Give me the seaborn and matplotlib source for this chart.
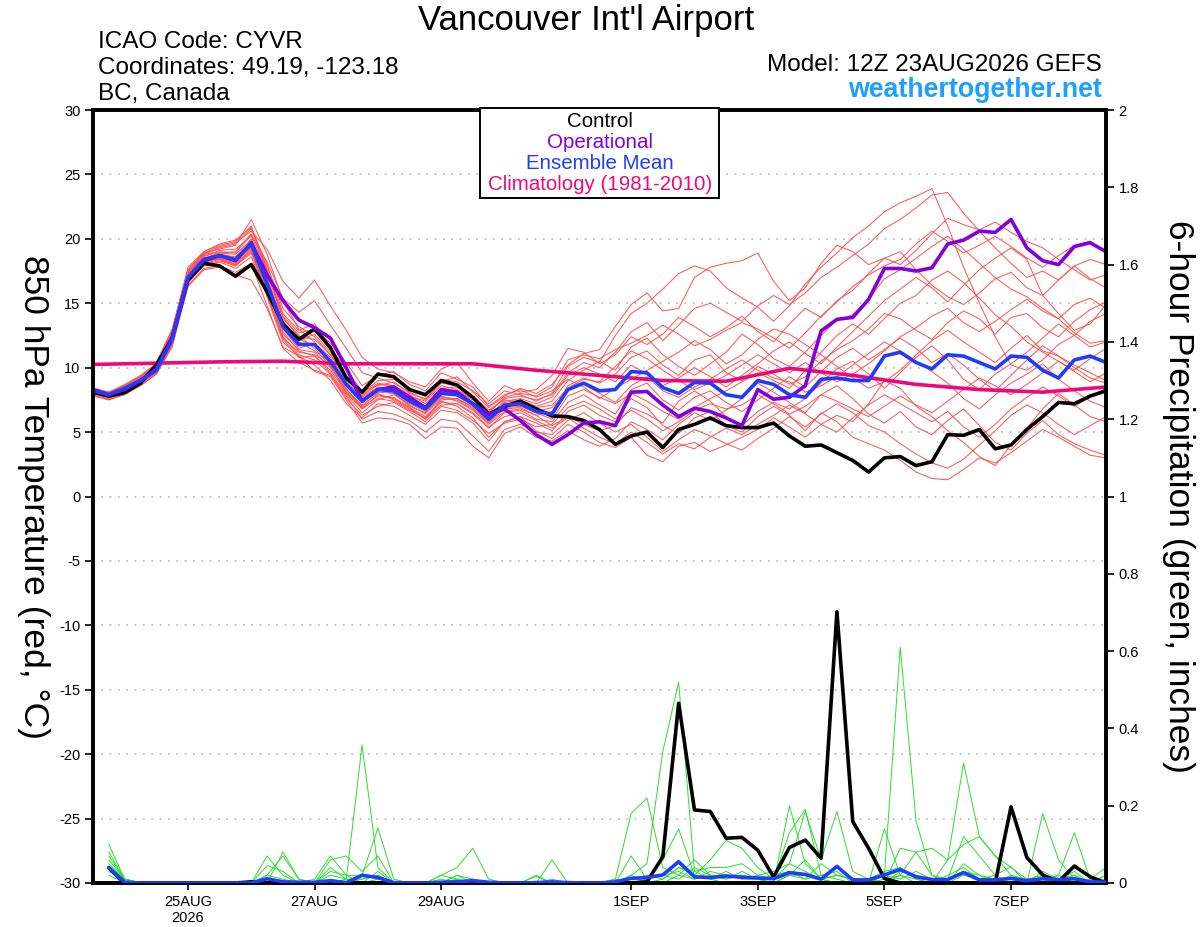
import matplotlib
matplotlib.use("Agg")

import matplotlib.pyplot as plt
from matplotlib.patches import Rectangle
import pandas as pd
import seaborn as sns


# Forecast hours from the 12Z 23AUG2026 GEFS run.
temp_hours = list(range(0, 385, 6))
precip_hours = list(range(6, 385, 6))
clim_hours = list(range(0, 385, 24))

tick_hours = [36, 84, 132, 204, 252, 300, 348]
tick_labels = ["25AUG\n2026", "27AUG", "29AUG", "1SEP", "3SEP", "5SEP", "7SEP"]

# 850 hPa temperature (C)
control_temp = [
    8.1, 7.8, 8.06, 8.8, 10.2, 12.3, 16.8, 18.1, 17.9, 17.1,
    18.0, 15.9, 13.4, 12.2, 13.0, 11.55, 9.2, 8.1, 9.5, 9.3,
    8.3, 7.9, 9.0, 8.65, 7.7, 6.4, 7.0, 7.4, 6.8, 6.25,
    6.2, 5.9, 5.2, 4.05, 4.7, 5.0, 3.8, 5.2, 5.6, 6.1,
    5.5, 5.35, 5.35, 5.7, 4.7, 3.9, 4.0, 3.4, 2.8, 1.9,
    3.0, 3.1, 2.4, 2.7, 4.8, 4.75, 5.2, 3.7, 4.0, 5.2,
    6.2, 7.3, 7.2, 7.8, 8.2,
]
oper_temp = [
    8.3, 7.9, 8.3, 9.0, 9.9, 12.3, 17.0, 18.3, 18.7, 18.3,
    19.7, 17.2, 15.2, 13.7, 13.1, 12.3, 10.0, 7.4, 8.3, 8.5,
    7.7, 6.9, 8.3, 8.1, 7.2, 6.4, 6.8, 5.9, 4.8, 4.05,
    4.8, 5.7, 5.8, 5.5, 8.1, 8.15, 7.1, 6.2, 6.85, 6.6,
    6.1, 5.5, 8.3, 7.55, 7.7, 8.6, 12.85, 13.75, 13.9, 15.3,
    17.7, 17.7, 17.5, 17.75, 19.6, 19.9, 20.6, 20.5, 21.5, 19.3,
    18.3, 18.0, 19.4, 19.7, 19.0,
]
mean_temp = [
    8.2, 7.9, 8.4, 9.0, 9.8, 12.2, 17.0, 18.4, 18.7, 18.4,
    19.6, 16.5, 13.2, 11.8, 11.8, 10.5, 8.7, 7.4, 8.3, 8.2,
    7.4, 6.8, 8.0, 7.9, 7.2, 6.0, 7.1, 7.2, 6.6, 6.4,
    8.3, 8.8, 8.2, 8.3, 9.7, 9.6, 8.45, 8.0, 8.85, 8.8,
    7.9, 7.7, 9.0, 8.7, 7.9, 7.7, 9.1, 9.2, 9.0, 9.0,
    10.9, 11.2, 10.4, 9.9, 11.0, 10.9, 10.4, 9.9, 10.9, 10.8,
    9.8, 9.2, 10.6, 10.9, 10.4,
]
clim_temp = [10.25, 10.35, 10.45, 10.5, 10.3, 10.3, 10.3, 9.8, 9.4,
             9.0, 8.95, 9.95, 9.4, 8.7, 8.3, 8.1, 8.5]

temp_m01 = [8.0, 7.6, 8.3, 9.2, 10.4, 13.0, 17.6, 18.9, 19.2, 19.5,
            21.5, 18.8, 15.2, 13.0, 12.0, 10.2, 8.0, 6.8, 7.9, 7.6,
            6.9, 6.0, 7.4, 7.0, 6.1, 4.6, 5.8, 6.2, 5.1, 4.5,
            5.6, 5.0, 4.2, 3.8, 4.6, 3.2, 2.7, 3.9, 4.2, 3.5,
            4.0, 4.6, 5.2, 6.1, 5.4, 4.6, 5.6, 6.3, 5.8, 7.2,
            9.0, 8.4, 7.0, 6.2, 5.1, 4.2, 3.1, 2.4, 4.0, 5.3,
            6.8, 8.0, 7.1, 6.2, 5.8]
temp_m02 = [8.3, 8.0, 8.6, 9.3, 10.0, 12.6, 17.4, 18.7, 18.9, 19.0,
            20.4, 17.9, 14.6, 13.2, 12.4, 11.0, 9.3, 7.9, 8.8, 8.6,
            7.8, 7.4, 8.6, 8.3, 7.6, 6.6, 7.6, 7.8, 7.5, 7.9,
            9.6, 10.4, 10.0, 11.2, 12.8, 13.5, 12.1, 13.3, 14.6, 15.0,
            14.3, 13.6, 14.8, 15.6, 14.9, 15.8, 17.0, 17.8, 18.7, 19.6,
            20.8, 21.5, 22.4, 23.4, 23.6, 22.0, 20.6, 19.3, 18.1, 17.0,
            17.5, 16.8, 17.9, 18.4, 18.0]
temp_m03 = [8.1, 7.8, 8.5, 9.1, 9.9, 12.4, 17.2, 18.8, 19.3, 19.6,
            20.8, 18.0, 14.2, 12.9, 13.4, 11.6, 9.8, 8.2, 8.6, 8.9,
            8.0, 7.6, 8.9, 9.3, 8.1, 6.9, 7.8, 8.4, 8.0, 8.7,
            10.2, 11.1, 11.4, 13.2, 14.9, 15.8, 14.4, 14.6, 17.0, 17.8,
            18.1, 18.3, 18.9, 16.7, 15.2, 16.2, 18.1, 19.5, 19.0, 18.0,
            18.5, 19.0, 17.6, 16.4, 15.5, 14.9, 15.8, 16.9, 17.4, 16.2,
            15.6, 16.8, 17.9, 16.9, 16.2]
temp_m04 = [8.0, 7.7, 8.1, 8.7, 9.6, 11.8, 16.6, 18.0, 18.3, 17.9,
            19.0, 16.0, 12.4, 11.0, 10.6, 9.5, 7.6, 6.3, 7.0, 7.3,
            6.6, 5.8, 7.0, 6.7, 5.9, 4.9, 5.7, 6.0, 5.4, 5.6,
            6.9, 7.4, 6.8, 6.0, 7.6, 6.9, 5.5, 4.9, 6.1, 6.6,
            5.5, 5.0, 6.2, 7.0, 6.3, 5.1, 6.5, 5.8, 4.6, 4.1,
            3.6, 2.8, 1.9, 1.4, 1.3, 2.1, 3.0, 2.6, 3.4, 4.3,
            5.2, 4.6, 3.9, 3.2, 3.0]
temp_m05 = [8.4, 8.1, 8.7, 9.4, 10.3, 12.9, 17.8, 19.0, 19.6, 19.9,
            20.9, 17.3, 13.8, 12.5, 11.5, 10.1, 8.2, 7.0, 8.1, 8.0,
            7.1, 6.4, 7.6, 7.5, 6.8, 5.7, 6.8, 6.9, 6.3, 6.6,
            8.6, 9.2, 8.8, 9.5, 10.8, 11.3, 10.2, 9.4, 10.6, 11.0,
            9.6, 9.0, 10.1, 9.5, 8.7, 9.3, 10.5, 11.4, 12.1, 13.0,
            14.2, 13.8, 12.9, 12.2, 13.5, 14.4, 13.8, 12.6, 13.9, 14.2,
            13.1, 12.4, 13.6, 14.5, 15.1]
temp_m06 = [7.9, 7.5, 8.0, 8.6, 9.5, 11.6, 16.3, 17.6, 17.8, 17.2,
            16.8, 14.6, 11.6, 10.9, 9.7, 9.3, 7.5, 5.7, 6.1, 6.0,
            5.6, 4.5, 5.4, 5.3, 3.9, 3.0, 4.9, 5.4, 4.6, 4.3,
            5.1, 4.4, 3.9, 4.5, 5.8, 5.2, 4.4, 5.6, 6.5, 5.9,
            6.7, 7.6, 8.8, 8.1, 7.3, 6.5, 7.9, 8.6, 7.6, 6.4,
            5.7, 6.6, 5.4, 4.8, 5.9, 6.8, 5.5, 4.2, 3.6, 4.9,
            5.9, 4.8, 4.1, 3.6, 3.2]
temp_m07 = [8.2, 7.9, 8.4, 9.0, 10.1, 12.1, 16.9, 18.3, 18.6, 18.2,
            19.3, 16.4, 13.0, 11.5, 11.9, 10.8, 9.0, 7.7, 8.5, 8.1,
            7.5, 6.9, 8.2, 8.0, 7.3, 6.2, 7.3, 7.5, 7.0, 7.4,
            9.0, 9.8, 10.5, 9.8, 11.6, 12.3, 11.0, 10.1, 9.4, 10.3,
            11.2, 12.6, 11.8, 10.7, 10.1, 11.2, 12.5, 13.7, 14.1, 15.3,
            16.9, 17.6, 18.5, 19.4, 20.2, 19.2, 18.1, 17.0, 16.1, 15.5,
            14.6, 13.8, 12.7, 11.9, 12.1]
temp_m08 = [8.1, 7.8, 8.2, 8.9, 9.7, 12.0, 16.8, 18.2, 18.5, 18.1,
            19.4, 16.2, 12.8, 11.3, 10.9, 9.8, 8.1, 6.9, 7.8, 7.7,
            6.9, 6.2, 7.3, 7.2, 6.4, 5.3, 6.5, 6.7, 6.0, 5.8,
            7.3, 7.9, 7.1, 6.4, 8.3, 8.8, 7.5, 6.7, 7.7, 8.2,
            7.3, 6.6, 7.5, 8.4, 9.3, 8.5, 9.7, 10.8, 11.5, 10.6,
            11.4, 12.3, 11.5, 10.4, 11.1, 10.2, 9.1, 8.2, 9.4, 10.6,
            11.7, 10.9, 10.0, 9.2, 8.8]
temp_m09 = [8.3, 8.0, 8.5, 9.2, 10.2, 12.8, 17.5, 18.9, 19.4, 19.7,
            20.6, 19.2, 16.7, 15.4, 16.8, 14.8, 12.9, 10.8, 9.9, 9.6,
            8.9, 8.5, 9.9, 10.4, 8.8, 7.4, 8.6, 8.1, 8.3, 9.4,
            11.5, 11.2, 10.3, 11.0, 12.4, 11.8, 12.6, 13.9, 13.2, 12.4,
            13.1, 14.0, 12.8, 12.0, 13.4, 14.6, 13.9, 15.2, 16.0, 17.3,
            18.5, 18.0, 19.1, 20.4, 21.6, 21.1, 20.7, 21.3, 20.5, 19.8,
            19.3, 18.4, 17.6, 16.8, 17.2]
temp_m10 = [8.2, 7.9, 8.3, 9.0, 9.9, 12.3, 17.1, 18.5, 18.8, 18.6,
            20.0, 17.0, 13.5, 12.1, 12.6, 11.2, 9.4, 8.0, 9.0, 9.1,
            8.4, 7.8, 9.1, 8.9, 8.2, 7.2, 8.2, 7.9, 7.4, 8.0,
            10.1, 10.8, 10.4, 12.5, 14.2, 15.0, 16.1, 17.3, 17.9, 17.5,
            16.2, 15.4, 14.7, 13.6, 14.8, 16.5, 17.8, 18.9, 20.1, 21.0,
            22.1, 22.8, 23.3, 23.9, 21.0, 17.8, 15.0, 12.4, 10.2, 9.8,
            10.6, 11.8, 12.5, 13.6, 14.2]
temp_m11 = [8.0, 7.7, 8.2, 8.8, 9.7, 12.0, 16.7, 18.1, 18.4, 18.0,
            19.1, 15.8, 12.2, 10.8, 10.9, 9.6, 7.9, 6.5, 7.5, 7.9,
            7.2, 6.6, 7.8, 7.4, 6.7, 5.6, 6.6, 6.8, 6.3, 5.5,
            6.2, 5.6, 5.1, 5.5, 6.9, 6.4, 5.7, 7.4, 8.2, 7.4,
            6.2, 5.5, 6.6, 7.3, 6.8, 7.6, 8.8, 9.9, 10.5, 9.5,
            8.4, 9.6, 10.8, 11.7, 10.6, 9.1, 8.3, 9.5, 10.3, 11.2,
            12.3, 13.4, 12.5, 11.6, 12.0]
temp_m12 = [8.4, 8.1, 8.6, 9.3, 10.1, 12.5, 17.3, 18.6, 19.1, 19.2,
            20.2, 17.6, 14.0, 12.7, 13.0, 11.9, 10.4, 8.6, 9.4, 9.7,
            8.7, 8.2, 9.6, 9.1, 8.5, 7.0, 7.9, 8.3, 7.7, 8.2,
            9.1, 8.5, 7.6, 8.4, 9.1, 9.8, 10.5, 11.2, 12.1, 11.4,
            10.3, 11.0, 12.2, 13.0, 12.6, 11.8, 11.0, 10.1, 9.2, 8.4,
            8.9, 9.8, 11.0, 12.1, 12.9, 12.0, 11.2, 10.4, 11.5, 12.5,
            11.3, 10.9, 10.2, 9.6, 9.0]
temp_m13 = [8.1, 7.8, 8.3, 8.9, 9.8, 12.2, 17.0, 18.4, 18.7, 18.3,
            19.5, 16.6, 13.4, 12.0, 11.3, 10.4, 8.6, 7.3, 8.3, 8.0,
            7.0, 6.5, 7.7, 7.6, 7.0, 5.9, 6.9, 7.0, 6.5, 6.0,
            7.8, 8.3, 7.7, 7.2, 8.0, 7.4, 6.6, 6.0, 6.9, 7.6,
            8.2, 8.9, 9.6, 9.0, 8.4, 9.8, 11.2, 12.5, 13.4, 12.6,
            13.8, 15.0, 15.6, 16.8, 17.5, 16.6, 15.4, 14.1, 13.2, 12.0,
            11.2, 10.5, 9.8, 10.7, 11.5]
temp_m14 = [7.8, 7.5, 7.9, 8.6, 9.5, 11.7, 16.4, 17.7, 17.9, 17.4,
            18.1, 14.8, 11.5, 10.4, 9.8, 9.4, 7.8, 6.0, 6.6, 6.4,
            5.9, 5.0, 6.0, 5.8, 4.7, 3.5, 5.2, 5.6, 5.0, 4.8,
            5.9, 6.5, 5.7, 5.0, 5.6, 4.6, 3.5, 4.4, 5.2, 4.7,
            4.1, 3.6, 4.5, 5.3, 6.2, 5.4, 6.4, 7.2, 6.5, 5.5,
            5.0, 4.1, 3.3, 2.6, 2.2, 2.9, 4.0, 5.1, 6.3, 7.1,
            6.5, 5.6, 4.8, 5.5, 6.2]
temp_m15 = [8.3, 8.0, 8.4, 9.1, 10.0, 12.4, 17.1, 18.5, 18.9, 18.8,
            19.9, 16.9, 13.6, 12.2, 11.7, 10.6, 8.8, 7.6, 8.4, 8.3,
            7.6, 7.0, 8.1, 8.2, 7.5, 6.3, 7.4, 7.6, 7.2, 7.7,
            9.4, 10.0, 9.5, 8.9, 10.2, 9.5, 8.6, 9.2, 10.0, 9.3,
            8.5, 9.4, 10.3, 11.3, 12.0, 11.1, 10.3, 11.6, 12.8, 14.0,
            15.2, 16.1, 17.0, 16.2, 15.1, 16.4, 17.6, 18.5, 19.3, 18.4,
            15.6, 14.2, 12.9, 13.4, 14.9]
temp_m16 = [8.0, 7.6, 8.1, 8.8, 9.6, 11.9, 16.6, 17.9, 18.2, 17.7,
            18.6, 15.5, 12.0, 10.9, 10.2, 9.0, 7.2, 6.1, 7.2, 7.0,
            6.3, 5.6, 6.7, 6.5, 5.7, 4.3, 5.8, 6.2, 5.7, 5.1,
            6.6, 7.1, 6.3, 5.8, 6.7, 6.0, 5.1, 5.8, 6.7, 7.2,
            6.8, 7.1, 7.9, 7.2, 6.4, 7.0, 7.9, 7.4, 6.8, 6.2,
            7.0, 7.8, 7.1, 6.5, 7.4, 8.3, 9.2, 8.6, 7.9, 8.7,
            9.6, 10.5, 9.7, 8.9, 9.6]
temp_m17 = [8.2, 7.9, 8.5, 9.2, 10.1, 12.6, 17.4, 18.8, 19.0, 18.9,
            20.3, 18.2, 15.4, 14.3, 15.2, 13.3, 11.5, 9.6, 9.2, 8.8,
            8.1, 7.5, 8.8, 8.6, 7.8, 6.7, 7.5, 7.3, 6.9, 7.1,
            8.4, 9.1, 8.9, 10.1, 11.3, 10.7, 9.8, 9.0, 8.3, 8.8,
            9.4, 10.2, 11.0, 10.3, 9.6, 10.4, 9.6, 8.9, 9.5, 10.3,
            11.3, 12.4, 13.1, 14.0, 14.6, 13.5, 12.8, 13.6, 14.5, 15.3,
            14.4, 13.8, 14.9, 15.4, 14.6]
temp_m18 = [8.1, 7.7, 8.2, 8.8, 9.7, 12.1, 16.9, 18.2, 18.5, 18.0,
            19.2, 16.1, 12.6, 11.4, 11.2, 10.0, 8.3, 7.1, 8.0, 7.5,
            6.8, 6.0, 7.1, 7.2, 6.5, 5.4, 6.2, 6.5, 5.9, 5.3,
            6.1, 5.3, 4.6, 4.1, 5.0, 4.2, 3.3, 4.1, 3.7, 4.6,
            5.3, 4.8, 5.6, 6.3, 7.1, 6.4, 5.6, 5.0, 6.1, 7.1,
            7.9, 7.2, 6.5, 5.8, 6.6, 5.4, 4.6, 5.6, 6.8, 7.7,
            8.5, 7.8, 7.0, 7.7, 8.4]
temp_m19 = [8.3, 8.0, 8.6, 9.3, 10.2, 12.7, 17.6, 19.0, 19.5, 19.8,
            21.0, 17.6, 13.9, 12.4, 12.2, 11.0, 9.2, 7.8, 8.7, 8.6,
            7.9, 7.2, 8.4, 8.5, 7.7, 6.5, 7.7, 8.0, 7.8, 8.5,
            10.6, 11.0, 10.7, 11.4, 11.9, 12.5, 13.3, 12.6, 11.7, 12.2,
            12.9, 13.5, 13.0, 12.3, 11.5, 12.7, 14.0, 15.1, 16.3, 17.2,
            17.9, 18.4, 19.6, 20.6, 19.8, 18.9, 19.5, 20.2, 19.4, 18.5,
            17.8, 18.7, 19.5, 19.8, 18.9]
temp_m20 = [8.0, 7.6, 8.2, 8.9, 9.8, 12.2, 16.9, 18.3, 18.4, 17.9,
            18.9, 15.6, 12.3, 11.2, 11.0, 10.2, 8.4, 6.8, 7.6, 7.4,
            6.7, 6.1, 7.5, 7.6, 6.9, 5.8, 6.9, 7.1, 6.6, 6.9,
            8.2, 8.7, 8.0, 7.3, 8.6, 9.3, 8.2, 7.7, 8.5, 9.1,
            9.9, 10.6, 9.8, 9.2, 8.9, 8.1, 8.6, 9.3, 10.2, 11.1,
            12.0, 11.3, 10.5, 9.7, 8.8, 7.6, 6.8, 7.9, 8.8, 9.5,
            10.3, 9.1, 8.2, 7.4, 6.9]

temp_members = [temp_m01, temp_m02, temp_m03, temp_m04, temp_m05,
                temp_m06, temp_m07, temp_m08, temp_m09, temp_m10,
                temp_m11, temp_m12, temp_m13, temp_m14, temp_m15,
                temp_m16, temp_m17, temp_m18, temp_m19, temp_m20]

# 6-hour precipitation (inches)
control_precip = [
    0.039, 0, 0, 0, 0, 0, 0, 0,
    0, 0.003, 0, 0, 0, 0, 0, 0,
    0, 0, 0, 0, 0, 0, 0, 0,
    0, 0, 0, 0, 0, 0, 0, 0,
    0, 0, 0.003, 0.068, 0.465, 0.189, 0.185, 0.116,
    0.118, 0.085, 0.015, 0.092, 0.111, 0.064, 0.702, 0.159,
    0.09, 0.012, 0, 0, 0, 0, 0, 0,
    0, 0.197, 0.066, 0.021, 0.003, 0.044, 0.016, 0,
]
mean_precip = [
    0.04, 0.002, 0, 0, 0, 0, 0, 0,
    0, 0, 0.011, 0.003, 0.002, 0.002, 0.006, 0.001,
    0.02, 0.014, 0.001, 0, 0, 0.002, 0.003, 0.006,
    0.002, 0, 0, 0.001, 0.003, 0.001, 0, 0,
    0.003, 0.012, 0.014, 0.021, 0.055, 0.016, 0.014, 0.018,
    0.015, 0.013, 0.011, 0.027, 0.022, 0.01, 0.043, 0.008,
    0.008, 0.021, 0.035, 0.016, 0.009, 0.009, 0.027, 0.008,
    0.008, 0.012, 0.006, 0.011, 0.009, 0.011, 0.003, 0.002,
]

precip_m01 = [0.10, 0.01, 0, 0, 0, 0, 0, 0,
              0, 0, 0.02, 0.07, 0.01, 0, 0, 0.01,
              0.357, 0.04, 0, 0, 0, 0, 0, 0,
              0, 0, 0, 0, 0, 0, 0, 0,
              0, 0.02, 0.05, 0.34, 0.52, 0.03, 0.01, 0,
              0, 0, 0, 0.02, 0.06, 0.01, 0, 0,
              0, 0.02, 0.61, 0.16, 0.02, 0, 0, 0,
              0, 0, 0, 0.01, 0, 0, 0, 0]
precip_m02 = [0.06, 0.01, 0, 0, 0, 0, 0, 0,
              0, 0, 0.07, 0.02, 0, 0.01, 0.07, 0.02,
              0.02, 0.142, 0.01, 0, 0, 0, 0.02, 0.01,
              0, 0, 0, 0, 0.06, 0, 0, 0,
              0.01, 0.18, 0.22, 0.04, 0.02, 0.06, 0.02, 0.01,
              0.02, 0.01, 0, 0.20, 0.05, 0.01, 0, 0,
              0, 0, 0.09, 0.08, 0.02, 0.01, 0.12, 0.07,
              0.02, 0, 0, 0.18, 0.06, 0.01, 0, 0]
precip_m03 = [0.05, 0.01, 0, 0, 0, 0, 0, 0,
              0, 0, 0, 0.08, 0.01, 0, 0.06, 0.07,
              0.03, 0.07, 0, 0, 0, 0.02, 0.04, 0.09,
              0.01, 0, 0, 0.02, 0, 0, 0, 0,
              0, 0.07, 0.01, 0.06, 0.14, 0.02, 0.06, 0.11,
              0.09, 0.04, 0.01, 0.13, 0.19, 0.02, 0.01, 0,
              0, 0.14, 0.02, 0, 0, 0.06, 0.31, 0.12,
              0.07, 0.04, 0.01, 0, 0.02, 0.13, 0.01, 0.04]
precip_m04 = [0.04, 0.01, 0, 0, 0, 0, 0, 0,
              0, 0, 0.045, 0.03, 0, 0, 0.04, 0.01,
              0.01, 0.02, 0, 0, 0, 0, 0, 0,
              0, 0, 0, 0, 0, 0, 0, 0,
              0, 0.02, 0, 0.01, 0.04, 0.03, 0.04, 0.04,
              0.05, 0.02, 0.03, 0.05, 0.185, 0.06, 0.185, 0.03,
              0.01, 0, 0.02, 0.08, 0.09, 0.06, 0.10, 0.12,
              0.07, 0.02, 0, 0.03, 0.01, 0.02, 0, 0.02]
precip_m05 = [0.03, 0.005, 0, 0, 0, 0, 0, 0,
              0, 0, 0.02, 0.01, 0, 0, 0.02, 0.01,
              0, 0.03, 0, 0, 0, 0.01, 0, 0,
              0, 0, 0, 0.017, 0, 0, 0, 0,
              0, 0.01, 0.02, 0.02, 0.03, 0.01, 0.02, 0.02,
              0.01, 0.01, 0.02, 0.03, 0.01, 0.05, 0.02, 0.01,
              0.01, 0.03, 0.04, 0.01, 0, 0.02, 0.04, 0.01,
              0.02, 0.042, 0, 0.02, 0.01, 0.03, 0, 0.01]
precip_m06 = [0.02, 0, 0, 0, 0, 0, 0, 0,
              0, 0, 0, 0, 0, 0, 0, 0,
              0, 0.01, 0, 0, 0, 0, 0.01, 0,
              0, 0, 0, 0, 0, 0, 0, 0,
              0, 0, 0, 0, 0.02, 0.01, 0.03, 0.02,
              0.02, 0.01, 0.01, 0.02, 0.02, 0.01, 0.02, 0.01,
              0, 0.01, 0.02, 0.01, 0, 0, 0.02, 0.01,
              0.01, 0, 0, 0.01, 0, 0.01, 0, 0]
precip_m07 = [0.08, 0.01, 0, 0, 0, 0, 0, 0,
              0, 0, 0, 0, 0, 0, 0.03, 0.02,
              0, 0, 0, 0, 0, 0, 0.02, 0,
              0, 0, 0, 0, 0.01, 0, 0, 0,
              0, 0.01, 0.02, 0.01, 0.04, 0.02, 0.01, 0.03,
              0.01, 0.02, 0.01, 0.05, 0.03, 0.01, 0.02, 0.01,
              0, 0.02, 0.01, 0.03, 0.01, 0, 0.05, 0.02,
              0.01, 0.01, 0, 0.01, 0.02, 0, 0.01, 0]
precip_m08 = [0.07, 0.01, 0, 0, 0, 0, 0, 0,
              0, 0, 0.01, 0, 0, 0, 0.01, 0,
              0.01, 0.02, 0, 0, 0, 0.02, 0.01, 0,
              0, 0, 0, 0, 0, 0, 0, 0,
              0.01, 0, 0.01, 0.02, 0.01, 0.04, 0.02, 0.01,
              0.03, 0.01, 0, 0.02, 0.01, 0.02, 0.03, 0,
              0.01, 0, 0.03, 0.02, 0.01, 0.01, 0.03, 0.02,
              0, 0.02, 0.01, 0.02, 0.01, 0.02, 0, 0.02]

precip_members = [precip_m01, precip_m02, precip_m03, precip_m04,
                  precip_m05, precip_m06, precip_m07, precip_m08]

RED = "#ff4f4f"
GREEN = "#2edc2e"
PURPLE = "#8200dc"
BLUE = "#1e3cff"
PINK = "#f0087a"
SITE_BLUE = "#1ea0ff"


def members_frame(members, hours, name):
    # Long format so seaborn can draw one line per member.
    rows = []
    for k, vals in enumerate(members):
        for h, v in zip(hours, vals, strict=True):
            rows.append((k, h, v))
    return pd.DataFrame(rows, columns=["member", "hour", name])


def main() -> None:
    sns.set_theme(style="ticks")
    plt.rcParams["font.family"] = ["Liberation Sans", "DejaVu Sans"]
    plt.rcParams["text.color"] = "black"

    fig = plt.figure(figsize=(12, 9.27), dpi=100)
    ax = fig.add_axes([93 / 1200, 1 - 883 / 927, 1013 / 1200, 773 / 927])
    ax2 = ax.twinx()

    # Temperature: ensemble members first, then the highlighted runs.
    temp_df = members_frame(temp_members, temp_hours, "temp")
    sns.lineplot(data=temp_df, x="hour", y="temp", units="member", estimator=None,
                 color=RED, linewidth=0.7, ax=ax, legend=False, zorder=2)
    sns.lineplot(x=clim_hours, y=clim_temp, color=PINK, linewidth=2.6, ax=ax, zorder=3)
    sns.lineplot(x=temp_hours, y=control_temp, color="black", linewidth=2.6, ax=ax, zorder=4)
    sns.lineplot(x=temp_hours, y=oper_temp, color=PURPLE, linewidth=2.6, ax=ax, zorder=5)
    sns.lineplot(x=temp_hours, y=mean_temp, color=BLUE, linewidth=2.6, ax=ax, zorder=6)

    # Precipitation on the right axis.
    precip_df = members_frame(precip_members, precip_hours, "precip")
    sns.lineplot(data=precip_df, x="hour", y="precip", units="member", estimator=None,
                 color=GREEN, linewidth=0.7, ax=ax2, legend=False, zorder=2)
    sns.lineplot(x=precip_hours, y=control_precip, color="black", linewidth=2.6, ax=ax2, zorder=3)
    sns.lineplot(x=precip_hours, y=mean_precip, color=BLUE, linewidth=2.6, ax=ax2, zorder=4)

    ax.set_xlim(0, 384)
    ax.set_ylim(-30, 30)
    ax2.set_ylim(0, 2)
    ax.set_yticks(list(range(-30, 31, 5)))
    ax.set_yticklabels([str(v) for v in range(-30, 31, 5)])
    right_ticks = [0, 0.2, 0.4, 0.6, 0.8, 1, 1.2, 1.4, 1.6, 1.8, 2]
    ax2.set_yticks(right_ticks)
    ax2.set_yticklabels([f"{v:g}" for v in right_ticks])
    ax.set_xticks(tick_hours)
    ax.set_xticklabels(tick_labels, linespacing=1.15)
    ax.set_xlabel("")
    ax.set_ylabel("")
    ax2.set_ylabel("")

    ax.grid(axis="y", color="#b4b4b4", linestyle=(0, (1, 4)), linewidth=1.2)
    ax.grid(axis="x", visible=False)
    ax2.grid(False)

    ax.tick_params(axis="y", direction="out", length=6, width=1.2, labelsize=10.5,
                   pad=3, colors="black")
    ax.tick_params(axis="x", direction="out", length=5, width=1.2, labelsize=10.5,
                   pad=4, colors="black")
    ax2.tick_params(axis="y", direction="out", length=6, width=1.2, labelsize=10.5,
                    pad=3, colors="black")
    for a in (ax, ax2):
        for sp in a.spines.values():
            sp.set_visible(True)
            sp.set_color("black")
            sp.set_linewidth(2.6)

    # Header text
    fig.text(586 / 1200, 1 - 30 / 927, "Vancouver Int'l Airport", ha="center",
             va="baseline", fontsize=25, color="black")
    fig.text(98 / 1200, 1 - 48 / 927, "ICAO Code: CYVR", ha="left", va="baseline",
             fontsize=17.5, color="black")
    fig.text(98 / 1200, 1 - 74 / 927, "Coordinates: 49.19, -123.18", ha="left",
             va="baseline", fontsize=17.5, color="black")
    fig.text(98 / 1200, 1 - 100 / 927, "BC, Canada", ha="left", va="baseline",
             fontsize=17.5, color="black")
    fig.text(1102 / 1200, 1 - 71 / 927, "Model: 12Z 23AUG2026 GEFS", ha="right",
             va="baseline", fontsize=17.5, color="black")
    fig.text(1102 / 1200, 1 - 97 / 927, "weathertogether.net", ha="right", va="baseline",
             fontsize=19.3, fontweight="bold", color=SITE_BLUE)

    # Legend box over the top of the plot
    fig.add_artist(Rectangle((480 / 1200, 1 - 198 / 927), 239 / 1200, 90 / 927,
                             transform=fig.transFigure, facecolor="white",
                             edgecolor="black", linewidth=1.4, zorder=5))
    legend_items = [("Control", "black", 127), ("Operational", PURPLE, 148),
                    ("Ensemble Mean", BLUE, 169), ("Climatology (1981-2010)", PINK, 190)]
    for label, color, ypix in legend_items:
        fig.text(600 / 1200, 1 - ypix / 927, label, ha="center", va="baseline",
                 fontsize=14.8, color=color, zorder=6)

    # Axis titles
    fig.text(33 / 1200, 1 - 497 / 927, "850 hPa Temperature (red, \u00b0C)", rotation=270,
             ha="center", va="center", fontsize=25.5, color="black")
    fig.text(1178 / 1200, 1 - 496 / 927, "6-hour Precipitation (green, inches)",
             rotation=270, ha="center", va="center", fontsize=25.5, color="black")

    fig.savefig("out.png", dpi=100)
    plt.close(fig)


if __name__ == "__main__":
    main()
